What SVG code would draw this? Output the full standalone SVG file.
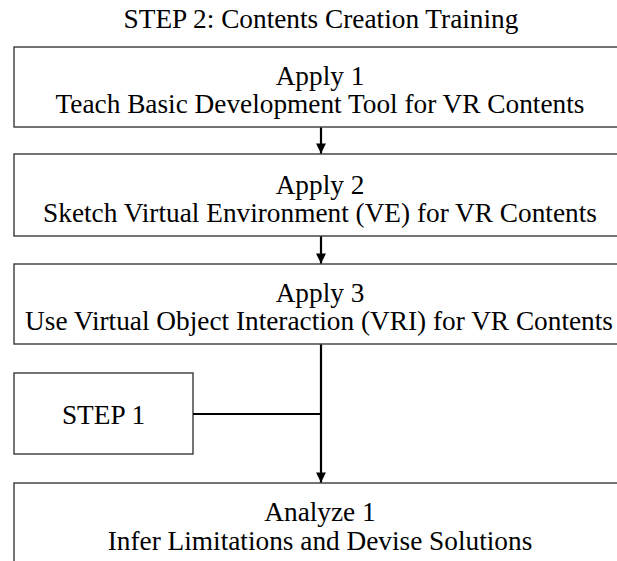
<svg xmlns="http://www.w3.org/2000/svg" width="617" height="561" viewBox="0 0 617 561">
  <defs>
    <marker id="arr" viewBox="0 0 10 10" refX="10" refY="5" markerWidth="5" markerHeight="4.5" orient="auto" markerUnits="strokeWidth">
      <path d="M0,0 L10,5 L0,10 z" fill="#000"/>
    </marker>
    <style>
      .box { fill: #fff; stroke: #3a3a3a; stroke-width: 1.4; }
      .t { font-size: 27.3px; fill: #000; text-anchor: middle; }
      .conn { stroke: #000; stroke-width: 2.2; fill: none; }
    </style>
  </defs>
  <rect width="617" height="561" fill="#fff"/>
  <g font-family="'Liberation Serif', Tinos, 'Times New Roman', 'DejaVu Serif', serif">
  <text class="t" x="321" y="28">STEP 2: Contents Creation Training</text>

  <g id="apply1">
    <rect class="box" x="14" y="47" width="620" height="80"/>
    <text class="t" x="320" y="85">Apply 1</text>
    <text class="t" x="320" y="113">Teach Basic Development Tool for VR Contents</text>
  </g>
  <g id="apply2">
    <rect class="box" x="14" y="154" width="620" height="82"/>
    <text class="t" x="320" y="194">Apply 2</text>
    <text class="t" x="320" y="222">Sketch Virtual Environment (VE) for VR Contents</text>
  </g>
  <g id="apply3">
    <rect class="box" x="14" y="264" width="620" height="80"/>
    <text class="t" x="320" y="302">Apply 3</text>
    <text class="t" x="319" y="330">Use Virtual Object Interaction (VRI) for VR Contents</text>
  </g>
  <g id="step1">
    <rect class="box" x="14" y="373" width="179" height="81"/>
    <text class="t" x="103.5" y="424">STEP 1</text>
  </g>
  <g id="analyze1">
    <rect class="box" x="14" y="483" width="620" height="90"/>
    <text class="t" x="320" y="521">Analyze 1</text>
    <text class="t" x="320" y="550">Infer Limitations and Devise Solutions</text>
  </g>
  </g>

  <g id="connectors">
    <line class="conn" x1="321" y1="127.5" x2="321" y2="153.5" marker-end="url(#arr)"/>
    <line class="conn" x1="321" y1="236.5" x2="321" y2="263.5" marker-end="url(#arr)"/>
    <line class="conn" x1="321" y1="344.5" x2="321" y2="482.5" marker-end="url(#arr)"/>
    <line class="conn" x1="193" y1="414" x2="321" y2="414" stroke-width="2.6"/>
  </g>
</svg>
